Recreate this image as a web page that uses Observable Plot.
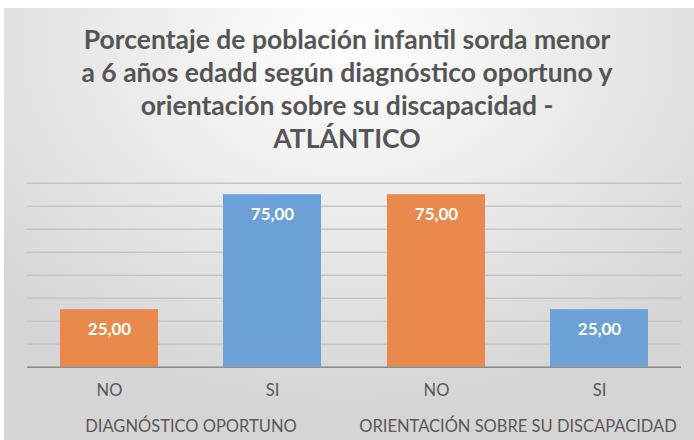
<!DOCTYPE html>
<html>
<head>
<meta charset="utf-8">
<script src="https://cdn.jsdelivr.net/npm/d3@7"></script>
<script src="https://cdn.jsdelivr.net/npm/@observablehq/plot@0.6"></script>
<style>
  html, body { margin: 0; padding: 0; background: #ffffff; }
  #frame { position: relative; width: 694px; height: 440px; overflow: hidden; background: #ffffff; }
  #bg { position: absolute; left: 4px; top: 8px; right: 0; bottom: 0;
        background: radial-gradient(ellipse 70% 85% at 50% 8%, #ffffff 0%, #f2f2f2 30%, #d5d5d5 100%); }
  #title { position: absolute; left: 0; top: 23px; width: 694px; text-align: center;
           font-family: Lato, "Open Sans", sans-serif; font-weight: bold; font-size: 26.5px;
           line-height: 33px; color: #555555; }
  #chart { position: absolute; left: 0; top: 170px; }
</style>
</head>
<body>
<div id="frame">
  <div id="bg"></div>
  <div id="title">Porcentaje de población infantil sorda menor<br>a 6 años edadd según diagnóstico oportuno y<br>orientación sobre su discapacidad -<br>ATLÁNTICO</div>
  <div id="chart"></div>
</div>
<script>
const groups = ["DIAGNÓSTICO OPORTUNO", "DIAGNÓSTICO OPORTUNO", "ORIENTACIÓN SOBRE SU DISCAPACIDAD", "ORIENTACIÓN SOBRE SU DISCAPACIDAD"];
const answers = ["NO", "SI", "NO", "SI"];
const values = [25, 75, 75, 25];
const groupOrder = ["DIAGNÓSTICO OPORTUNO", "ORIENTACIÓN SOBRE SU DISCAPACIDAD"];
const answerOrder = ["NO", "SI"];
const answerColors = ["#e98a4c", "#6ba1d6"];

const data = values.map((v, i) => ({group: groups[i], answer: answers[i], value: v}));
const fmt = v => v.toFixed(2).replace(".", ",");

const chart = Plot.plot({
  width: 694,
  height: 270,
  marginLeft: 27,
  marginRight: 13,
  marginTop: 12.7,
  marginBottom: 73.3,
  style: {background: "transparent", fontFamily: "Lato, 'Open Sans', sans-serif", fontSize: "16.5px", color: "#595959"},
  fx: {domain: groupOrder, padding: 0, label: null},
  x: {domain: answerOrder, paddingInner: 0.4, paddingOuter: 0.2, label: null},
  y: {domain: [0, 80], axis: null},
  color: {domain: answerOrder, range: answerColors},
  marks: [
    Plot.gridY({ticks: 8, stroke: "#c6c6c6", strokeOpacity: 1, strokeWidth: 1.5}),
    Plot.barY(data, {fx: "group", x: "answer", y: "value", fill: "answer"}),
    Plot.ruleY([0], {stroke: "#8c8c8c", strokeWidth: 1.5}),
    Plot.text(data, {fx: "group", x: "answer", y: "value", text: d => fmt(d.value), dy: 20,
                     fill: "white", fontWeight: "bold", fontSize: 17}),
    Plot.axisX({tickSize: 0, tickPadding: 17, fontSize: 16.5, label: null}),
    Plot.axisFx({anchor: "bottom", tickSize: 0, tickPadding: 53, fontSize: 16.5, label: null})
  ]
});
document.getElementById("chart").appendChild(chart);
</script>
</body>
</html>
